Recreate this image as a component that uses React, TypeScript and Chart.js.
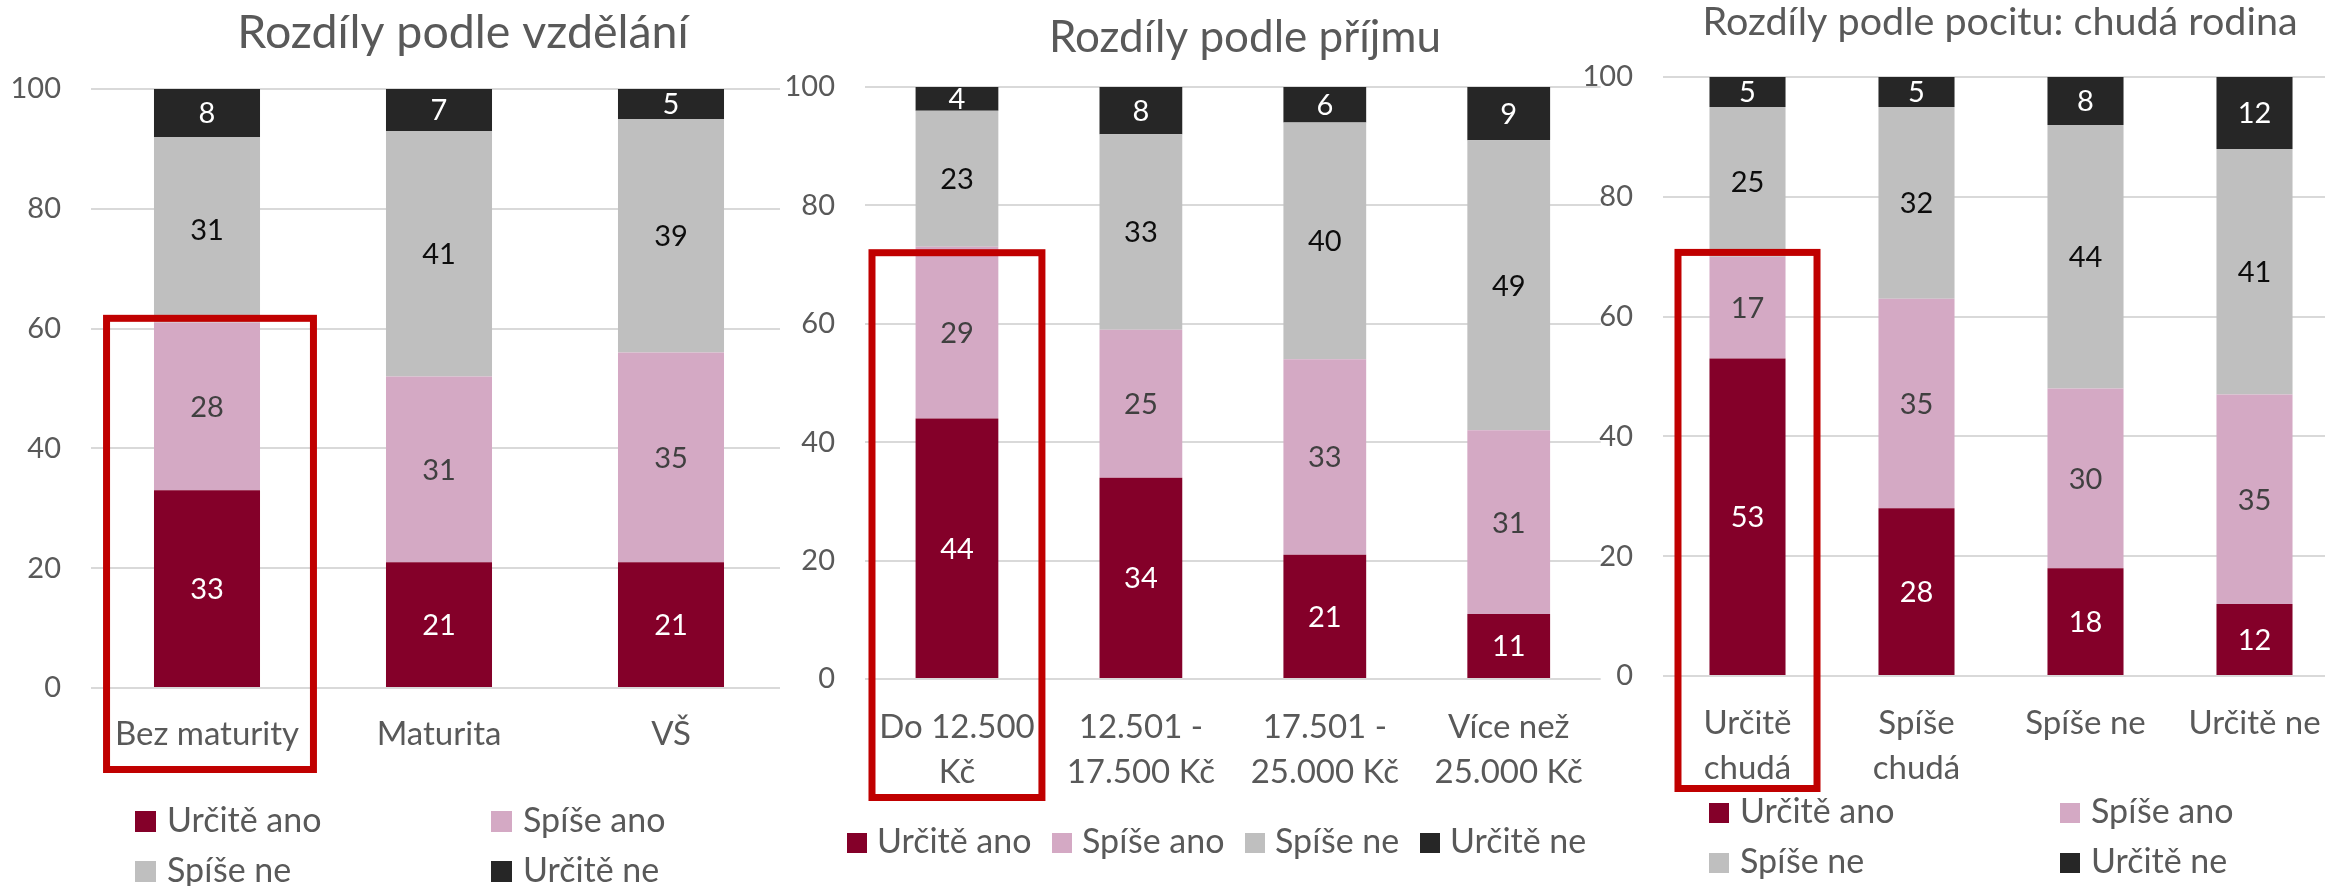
import React, { useEffect, useRef } from "react";
import { Chart, registerables } from "chart.js";

Chart.register(...registerables);

// ---------- data ----------
const seriesNames = ["Určitě ano", "Spíše ano", "Spíše ne", "Určitě ne"];
const seriesColors = ["#840029", "#D4A9C4", "#BFBFBF", "#262626"];
const valueLabelColors = ["#FFFFFF", "#404040", "#0D0D0D", "#FFFFFF"];
const yTicks = [0, 20, 40, 60, 80, 100];

const eduTitle = "Rozdíly podle vzdělání";
const eduCategories = ["Bez maturity", "Maturita", "VŠ"];
const eduUrciteAno = [33, 21, 21];
const eduSpiseAno = [28, 31, 35];
const eduSpiseNe = [31, 41, 39];
const eduUrciteNe = [8, 7, 5];

const incTitle = "Rozdíly podle příjmu";
const incCategories = [
  ["Do 12.500", "Kč"],
  ["12.501 -", "17.500 Kč"],
  ["17.501 -", "25.000 Kč"],
  ["Více než", "25.000 Kč"],
];
const incUrciteAno = [44, 34, 21, 11];
const incSpiseAno = [29, 25, 33, 31];
const incSpiseNe = [23, 33, 40, 49];
const incUrciteNe = [4, 8, 6, 9];

const poorTitle = "Rozdíly podle pocitu: chudá rodina";
const poorCategories = [["Určitě", "chudá"], ["Spíše", "chudá"], "Spíše ne", "Určitě ne"];
const poorUrciteAno = [53, 28, 18, 12];
const poorSpiseAno = [17, 35, 30, 35];
const poorSpiseNe = [25, 32, 44, 41];
const poorUrciteNe = [5, 5, 8, 12];

// ---------- styling / layout ----------
const FONT = "Lato, 'Open Sans', sans-serif";
const TEXT_GRAY = "#595959";
const H = 886;

type Cfg = {
  left: number;
  width: number;
  bg: string;
  categories: (string | string[])[];
  values: number[][];
  area: { left: number; right: number; top: number; bottom: number };
  title: { text: string; size: number; x: number; y: number };
  legend: { bx: number[]; by: number[]; box: number; textDx: number };
  highlight: { index: number; topValue: number; bottomPx: number; widthFrac: number; dx: number };
  labelPadding: number;
  barPct: number;
};

const charts: Cfg[] = [
  {
    left: 0,
    width: 800,
    bg: "transparent",
    categories: eduCategories,
    values: [eduUrciteAno, eduSpiseAno, eduSpiseNe, eduUrciteNe],
    area: { left: 91, right: 787, top: 89, bottom: 688 },
    title: { text: eduTitle, size: 46.5, x: 463, y: 48 },
    legend: { bx: [135, 491, 135, 491], by: [811, 811, 861, 861], box: 21, textDx: 32 },
    highlight: { index: 0, topValue: 62.3, bottomPx: 773, widthFrac: 0.922, dx: 3 },
    labelPadding: 24,
    barPct: 0.457,
  },
  {
    left: 780,
    width: 830,
    bg: "#FFFFFF",
    categories: incCategories,
    values: [incUrciteAno, incSpiseAno, incSpiseNe, incUrciteNe],
    area: { left: 85, right: 821, top: 87, bottom: 679 },
    title: { text: incTitle, size: 44, x: 465, y: 52 },
    legend: { bx: [67, 272, 465, 640], by: [833, 833, 833, 833], box: 20, textDx: 30 },
    highlight: { index: 0, topValue: 72.6, bottomPx: 801, widthFrac: 0.962, dx: 0 },
    labelPadding: 26,
    barPct: 0.45,
  },
  {
    left: 1580,
    width: 770,
    bg: "transparent",
    categories: poorCategories,
    values: [poorUrciteAno, poorSpiseAno, poorSpiseNe, poorUrciteNe],
    area: { left: 83, right: 759, top: 77, bottom: 676 },
    title: { text: poorTitle, size: 39.5, x: 420, y: 35 },
    legend: { bx: [129, 480, 129, 480], by: [803, 803, 853, 853], box: 20, textDx: 31 },
    highlight: { index: 0, topValue: 71.3, bottomPx: 792, widthFrac: 0.864, dx: 0 },
    labelPadding: 25,
    barPct: 0.45,
  },
];

function makePlugin(cfg: Cfg) {
  return {
    id: "extras",
    afterDatasetsDraw(chart: any) {
      const ctx = chart.ctx;
      ctx.save();
      const size = 29;
      ctx.font = `${size}px ${FONT}`;
      ctx.textAlign = "center";
      ctx.textBaseline = "alphabetic";
      chart.data.datasets.forEach((ds: any, di: number) => {
        const meta = chart.getDatasetMeta(di);
        meta.data.forEach((bar: any, i: number) => {
          const v = ds.data[i];
          if (v == null) return;
          const p = bar.getProps(["x", "y", "base"], true);
          ctx.fillStyle = valueLabelColors[di];
          ctx.fillText(String(v), p.x, (p.y + p.base) / 2 + size * 0.36);
        });
      });
      ctx.restore();
    },
    afterDraw(chart: any) {
      const ctx = chart.ctx;
      ctx.save();
      // title
      ctx.font = `${cfg.title.size}px ${FONT}`;
      ctx.fillStyle = TEXT_GRAY;
      ctx.textAlign = "center";
      ctx.textBaseline = "alphabetic";
      ctx.fillText(cfg.title.text, cfg.title.x, cfg.title.y);
      // legend
      ctx.font = `34px ${FONT}`;
      ctx.textAlign = "left";
      seriesNames.forEach((name, i) => {
        const bx = cfg.legend.bx[i];
        const by = cfg.legend.by[i];
        const b = cfg.legend.box;
        ctx.fillStyle = seriesColors[i];
        ctx.fillRect(bx, by, b, b);
        ctx.fillStyle = TEXT_GRAY;
        ctx.fillText(name, bx + cfg.legend.textDx, by + b);
      });
      // highlight rectangle
      const xs = chart.scales.x;
      const ys = chart.scales.y;
      const hl = cfg.highlight;
      const catW = (chart.chartArea.right - chart.chartArea.left) / cfg.categories.length;
      const cx = xs.getPixelForValue(hl.index) + hl.dx;
      const w = catW * hl.widthFrac;
      const top = ys.getPixelForValue(hl.topValue);
      const lw = 7;
      ctx.strokeStyle = "#C00000";
      ctx.lineWidth = lw;
      ctx.strokeRect(cx - w / 2 + lw / 2, top + lw / 2, w - lw, hl.bottomPx - top - lw);
      ctx.restore();
    },
  };
}

function ChartCanvas({ cfg }: { cfg: Cfg }) {
  const ref = useRef<HTMLCanvasElement | null>(null);
  useEffect(() => {
    if (!ref.current) return;
    const a = cfg.area;
    const chart = new Chart(ref.current, {
      type: "bar",
      data: {
        labels: cfg.categories as any,
        datasets: seriesNames.map((name, i) => ({
          label: name,
          data: cfg.values[i],
          backgroundColor: seriesColors[i],
          borderWidth: 0,
          barPercentage: cfg.barPct,
          categoryPercentage: 1,
        })),
      },
      options: {
        animation: false,
        responsive: false,
        maintainAspectRatio: false,
        events: [],
        layout: { padding: { left: 0, right: cfg.width - a.right, top: a.top, bottom: 0 } },
        plugins: {
          legend: { display: false },
          title: { display: false },
          tooltip: { enabled: false },
        },
        scales: {
          x: {
            stacked: true,
            grid: { display: false, drawTicks: false },
            border: { display: false },
            ticks: {
              color: TEXT_GRAY,
              font: { family: FONT, size: 33, lineHeight: "45px" as any },
              padding: cfg.labelPadding,
              maxRotation: 0,
              autoSkip: false,
            },
            afterFit: (s: any) => {
              s.height = H - a.bottom;
            },
          },
          y: {
            stacked: true,
            min: 0,
            max: 100,
            afterBuildTicks: (s: any) => {
              s.ticks = yTicks.map((v) => ({ value: v }));
            },
            grid: { color: "#D9D9D9", lineWidth: 2, drawTicks: false },
            border: { display: false },
            ticks: {
              color: TEXT_GRAY,
              font: { family: FONT, size: 29 },
              padding: 30,
            },
            afterFit: (s: any) => {
              s.width = a.left;
            },
          },
        },
      },
      plugins: [makePlugin(cfg)],
    });
    return () => chart.destroy();
  }, [cfg]);
  return (
    <canvas
      ref={ref}
      width={cfg.width}
      height={H}
      style={{
        position: "absolute",
        left: cfg.left,
        top: 0,
        width: cfg.width,
        height: H,
        background: cfg.bg,
      }}
    />
  );
}

export default function App() {
  return (
    <div
      style={{
        position: "absolute",
        left: 0,
        top: 0,
        width: 2325,
        height: H,
        overflow: "hidden",
        background: "#FFFFFF",
      }}
    >
      {charts.map((c, i) => (
        <ChartCanvas key={i} cfg={c} />
      ))}
    </div>
  );
}
